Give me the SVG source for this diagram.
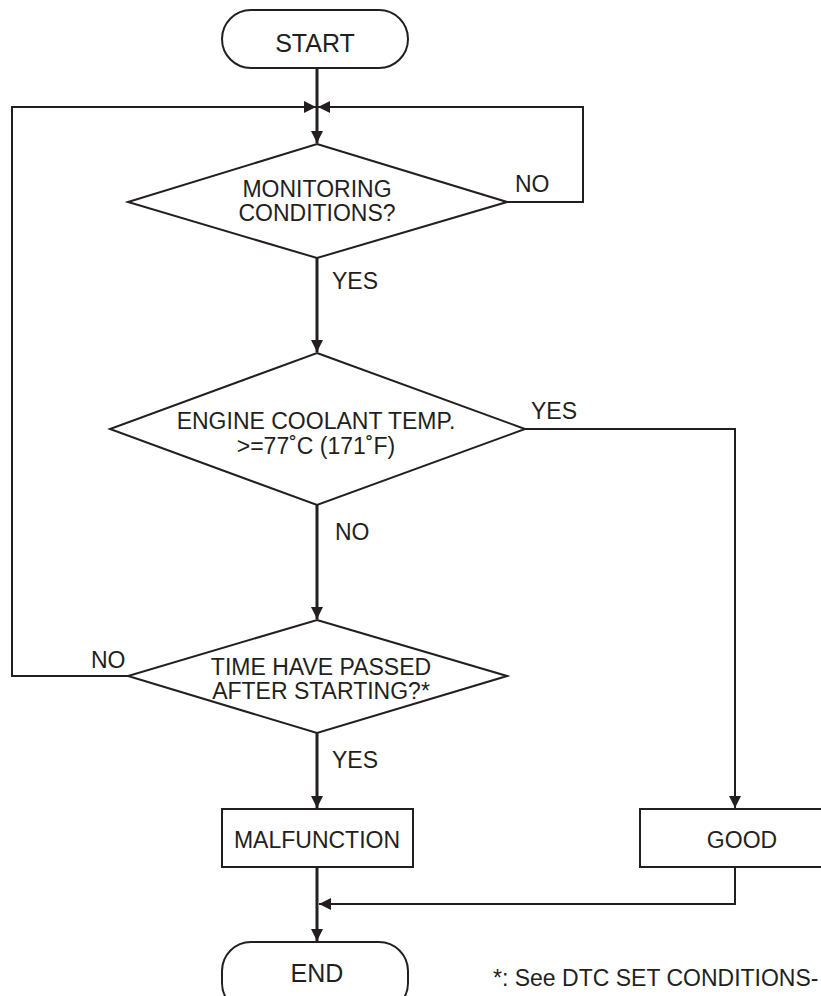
<svg xmlns="http://www.w3.org/2000/svg" width="821" height="996" viewBox="0 0 821 996">
<style>
.s{fill:#fff;stroke:#231f20;stroke-width:2}
.t{font-family:"Liberation Sans",Arial,sans-serif;font-size:23px;fill:#231f20;text-anchor:middle}
.l{font-family:"Liberation Sans",Arial,sans-serif;font-size:23px;fill:#231f20;text-anchor:start}
.big{font-size:25px}
.c{fill:none;stroke:#231f20;stroke-width:2}
.k{stroke-width:3}
</style>
<defs>
<marker id="a" markerUnits="userSpaceOnUse" markerWidth="14" markerHeight="14" refX="12" refY="6" orient="auto"><path d="M0,0L12,6L0,12z" fill="#231f20"/></marker>
</defs>
<rect width="821" height="996" fill="#fff"/>
<g id="connectors">
<path class="c k" d="M317,68V143" marker-end="url(#a)"/>
<path class="c" d="M128,676H12V107H316" marker-end="url(#a)"/>
<path class="c" d="M507,202H583V107H318" marker-end="url(#a)"/>
<path class="c k" d="M317,258V352" marker-end="url(#a)"/>
<path class="c k" d="M317,505V619" marker-end="url(#a)"/>
<path class="c k" d="M317,733V808" marker-end="url(#a)"/>
<path class="c" d="M525,429H735V808" marker-end="url(#a)"/>
<path class="c k" d="M317,867V941" marker-end="url(#a)"/>
<path class="c" d="M735,867V904H319" marker-end="url(#a)"/>
</g>
<g id="start">
<rect class="s" x="222" y="10" width="186" height="58" rx="29"/>
<text class="t big" x="315" y="52">START</text>
</g>
<g id="monitoring">
<path class="s" d="M317,144L507,202L317,258L128,202Z"/>
<text class="t" x="317" y="197">MONITORING</text>
<text class="t" x="317" y="221">CONDITIONS?</text>
</g>
<g id="coolant">
<path class="s" d="M317,353L525,429L317,505L110,429Z"/>
<text class="t" x="316" y="429">ENGINE COOLANT TEMP.</text>
<text class="t" x="316" y="454">&gt;=77˚C (171˚F)</text>
</g>
<g id="time">
<path class="s" d="M317,620L507,676L317,733L128,676Z"/>
<text class="t" x="321" y="675">TIME HAVE PASSED</text>
<text class="t" x="321" y="699">AFTER STARTING?*</text>
</g>
<g id="malfunction">
<rect class="s" x="222" y="809" width="191" height="58"/>
<text class="t" x="317" y="848">MALFUNCTION</text>
</g>
<g id="good">
<rect class="s" x="640" y="809" width="200" height="58"/>
<text class="t" x="742" y="848">GOOD</text>
</g>
<g id="end">
<rect class="s" x="222" y="942" width="186" height="70" rx="29"/>
<text class="t big" x="317" y="982">END</text>
</g>
<g id="labels">
<text class="l" x="515" y="192">NO</text>
<text class="l" x="332" y="289">YES</text>
<text class="l" x="531" y="419">YES</text>
<text class="l" x="335" y="540">NO</text>
<text class="l" x="91" y="668">NO</text>
<text class="l" x="332" y="768">YES</text>
<text class="l" x="493" y="986">*: See DTC SET CONDITIONS-</text>
</g>
</svg>
